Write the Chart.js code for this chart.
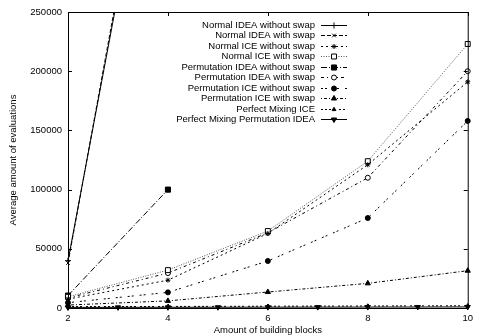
<!DOCTYPE html>
<html>
<head>
<meta charset="utf-8">
<script src="https://cdn.jsdelivr.net/npm/chart.js"></script>
<style>
  body { margin: 0; background: #fff; }
</style>
</head>
<body>
<canvas id="myChart" width="478" height="336"></canvas>
<script>
// values
const xTicks = [2, 4, 6, 8, 10];
const yTicks = [0, 50000, 100000, 150000, 200000, 250000];
const xEven = [2, 4, 6, 8, 10];
const xShort = [2, 4];
const xAll = [2, 3, 4, 5, 6, 7, 8, 9, 10];

const normalIdeaNoSwap = [40000, 489000];
const normalIdeaSwap = [38000, 500000];
const normalIceNoSwap = [7500, 23500, 63000, 121000, 191000];
const normalIceSwap = [9500, 32000, 65000, 124000, 223000];
const permIdeaNoSwap = [10500, 100000];
const permIdeaSwap = [8500, 29500, 63500, 110000, 200000];
const permIceNoSwap = [4500, 13200, 39700, 76000, 158000];
const permIceSwap = [2500, 6000, 13500, 20800, 31500];
const perfectMixIce = [1200, 1300, 1500, 1700, 1900];
const perfectMixPermIdea = [500, 550, 600, 650, 700, 750, 800, 850, 900];

const labels = [
  'Normal IDEA without swap',
  'Normal IDEA with swap',
  'Normal ICE without swap',
  'Normal ICE with swap',
  'Permutation IDEA without swap',
  'Permutation IDEA with swap',
  'Permutation ICE without swap',
  'Permutation ICE with swap',
  'Perfect Mixing ICE',
  'Perfect Mixing Permutation IDEA'
];

const FONT = '"Liberation Sans", Arial, Helvetica, sans-serif';

function pts(xs, ys) {
  return xs.map((x, i) => ({x: x, y: ys[i]}));
}

function line(i, xs, ys, dash, style, radius, fill, rot, color) {
  return {
    label: labels[i],
    data: pts(xs, ys),
    borderColor: color || '#000',
    borderWidth: 1,
    borderDash: dash,
    pointStyle: style,
    pointRadius: radius,
    pointRotation: rot || 0,
    pointBorderColor: '#000',
    pointBackgroundColor: fill,
    pointBorderWidth: 1,
    tension: 0,
    fill: false,
    clip: {left: 6, right: 6, top: 0, bottom: 6}
  };
}

const datasets = [
  line(0, xShort, normalIdeaNoSwap, [], 'cross', 3, '#000'),
  line(1, xShort, normalIdeaSwap, [4, 2], 'crossRot', 2.5, '#000'),
  line(2, xEven, normalIceNoSwap, [2, 3], 'star', 2.5, '#000'),
  line(3, xEven, normalIceSwap, [1, 1.5], 'rect', 3.5, '#fff', 0, '#555'),
  line(4, xShort, permIdeaNoSwap, [6, 2, 1, 2], 'rect', 3.6, '#000'),
  line(5, xEven, permIdeaSwap, [3, 3, 1, 3], 'circle', 2.5, '#fff'),
  line(6, xEven, permIceNoSwap, [2, 2, 2, 6], 'circle', 2.5, '#000'),
  line(7, xEven, permIceSwap, [1, 2, 3, 2], 'triangle', 3, '#000'),
  line(8, xEven, perfectMixIce, [2, 2, 2, 2, 2, 2, 2, 4], 'triangle', 2.2, '#000'),
  line(9, xAll, perfectMixPermIdea, [], 'triangle', 3, '#000', 180)
];

// gnuplot style frame, inward ticks and key
const framePlugin = {
  id: 'frame',
  afterDatasetsDraw(chart) {
    const ctx = chart.ctx;
    const a = chart.chartArea;
    const xs = chart.scales.x, ys = chart.scales.y;
    ctx.save();
    ctx.strokeStyle = '#000';
    ctx.lineWidth = 1;
    ctx.setLineDash([]);
    ctx.strokeRect(a.left + 0.5, a.top + 0.5, a.right - a.left, a.bottom - a.top);
    ctx.beginPath();
    xTicks.forEach(v => {
      const px = Math.round(xs.getPixelForValue(v)) + 0.5;
      ctx.moveTo(px, a.bottom); ctx.lineTo(px, a.bottom - 4);
      ctx.moveTo(px, a.top); ctx.lineTo(px, a.top + 4);
    });
    yTicks.forEach(v => {
      const py = Math.round(ys.getPixelForValue(v)) + 0.5;
      ctx.moveTo(a.left, py); ctx.lineTo(a.left + 4, py);
      ctx.moveTo(a.right, py); ctx.lineTo(a.right - 4, py);
    });
    ctx.stroke();

    // key
    const textRight = a.left + 247;
    const sx0 = textRight + 6, sx1 = textRight + 32;
    ctx.font = '9.5px ' + FONT;
    ctx.textAlign = 'right';
    ctx.textBaseline = 'middle';
    datasets.forEach((d, i) => {
      const y = Math.round(a.top + 12.5 + i * 10.5) + 0.5;
      ctx.fillStyle = '#000';
      ctx.fillText(d.label, textRight, y);
      ctx.beginPath();
      ctx.strokeStyle = d.borderColor;
      ctx.setLineDash(d.borderDash);
      ctx.moveTo(sx0, y);
      ctx.lineTo(sx1, y);
      ctx.stroke();
      ctx.setLineDash([]);
      ctx.strokeStyle = '#000';
      ctx.fillStyle = d.pointBackgroundColor;
      Chart.helpers.drawPoint(ctx, {
        pointStyle: d.pointStyle,
        rotation: d.pointRotation,
        radius: d.pointRadius,
        borderWidth: 1
      }, (sx0 + sx1) / 2, y);
    });
    ctx.restore();
  }
};

new Chart(document.getElementById('myChart'), {
  type: 'line',
  data: { datasets: datasets },
  options: {
    responsive: false,
    animation: false,
    devicePixelRatio: 1,
    layout: { padding: { left: 0, right: 8, top: 12, bottom: 0 } },
    plugins: {
      legend: { display: false },
      tooltip: { enabled: false }
    },
    scales: {
      x: {
        type: 'linear',
        min: 2,
        max: 10,
        afterBuildTicks: s => { s.ticks = xTicks.map(v => ({value: v})); },
        afterFit: s => { s.height = 28; },
        grid: { display: false, drawTicks: false },
        border: { display: false },
        ticks: { color: '#000', padding: 5, font: { family: FONT, size: 9.5 } },
        title: {
          display: true,
          text: 'Amount of building blocks',
          color: '#000',
          padding: 0,
          font: { family: FONT, size: 9.5 }
        }
      },
      y: {
        type: 'linear',
        min: 0,
        max: 250000,
        afterBuildTicks: s => { s.ticks = yTicks.map(v => ({value: v})); },
        afterFit: s => { s.width = 68; },
        grid: { display: false, drawTicks: false },
        border: { display: false },
        ticks: {
          color: '#000',
          padding: 6,
          font: { family: FONT, size: 9.5 },
          callback: v => String(v)
        },
        title: {
          display: true,
          text: 'Average amount of evaluations',
          color: '#000',
          padding: { top: 8, bottom: 0 },
          font: { family: FONT, size: 9.5 }
        }
      }
    }
  },
  plugins: [framePlugin]
});
</script>
</body>
</html>
